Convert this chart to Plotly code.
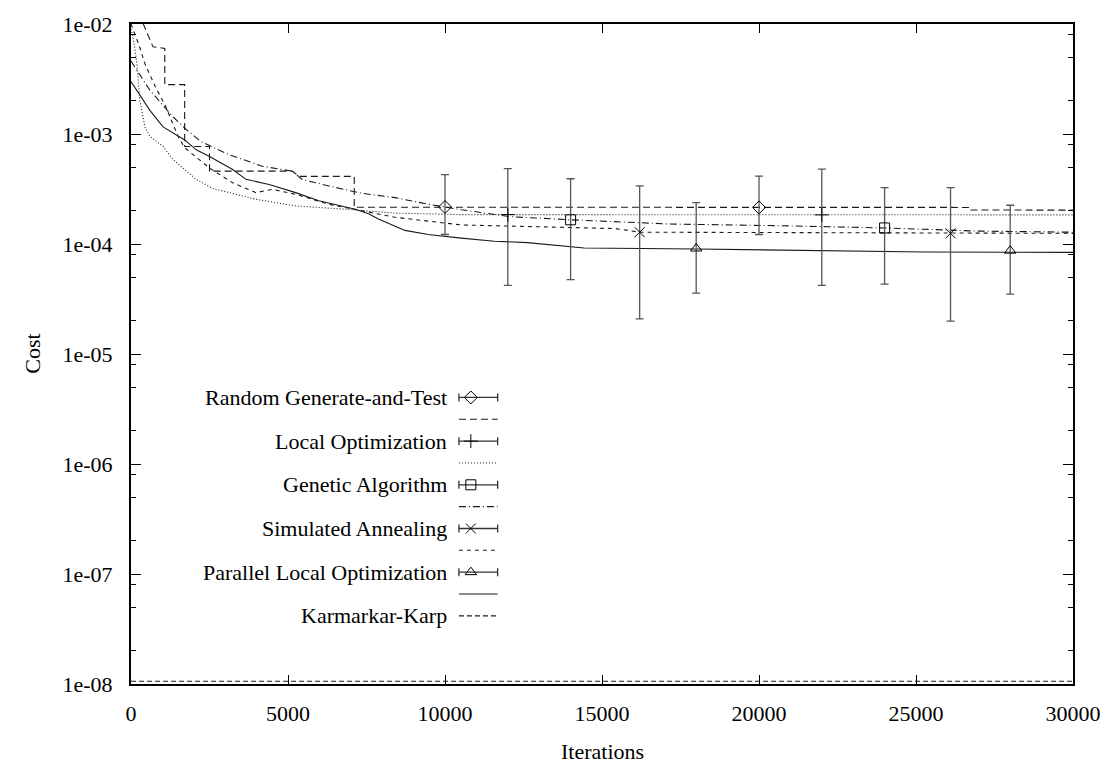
import plotly.graph_objects as go

# ---------------- data ----------------
rgt_x = [0, 380, 700, 1076, 1076, 1709, 1709, 2500, 2500, 5137, 5348, 7110, 7110, 26700, 26700, 30000]
rgt_y = [0.1, 1.02e-2, 6.2e-3, 6.0e-3, 2.81e-3, 2.81e-3, 7.7e-4, 7.7e-4, 4.6e-4, 4.6e-4, 4.12e-4, 4.12e-4,
         2.16e-4, 2.15e-4, 2.04e-4, 2.03e-4]

lo_x = [0, 60, 180, 285, 443, 601, 1022, 1329, 2079, 2595, 3978, 5244, 6826, 8408, 10506, 30000]
lo_y = [9.0e-3, 7.8e-3, 4.6e-3, 2.0e-3, 1.16e-3, 9.5e-4, 7.7e-4, 5.9e-4, 3.87e-4, 3.2e-4, 2.55e-4, 2.22e-4,
        2.07e-4, 1.91e-4, 1.85e-4, 1.84e-4]

ga_x = [0, 300, 600, 1022, 1340, 1772, 2236, 3133, 4187, 5137, 5453, 6297, 7353, 8408, 9462, 10517, 12098,
        14000, 17150, 21000, 24000, 27000, 30000]
ga_y = [4.6e-3, 3.4e-3, 2.5e-3, 1.82e-3, 1.43e-3, 1.09e-3, 8.5e-4, 6.47e-4, 5.09e-4, 4.59e-4, 3.86e-4, 3.37e-4,
        2.89e-4, 2.64e-4, 2.30e-4, 2.05e-4, 1.77e-4, 1.66e-4, 1.52e-4, 1.46e-4, 1.40e-4, 1.31e-4, 1.28e-4]

sa_x = [0, 250, 450, 800, 1100, 1300, 1500, 1709, 2500, 3238, 3978, 4504, 5244, 6297, 8408, 10517, 12627,
        15443, 16200, 26100, 30000]
sa_y = [1.0e-2, 6.5e-3, 4.3e-3, 2.6e-3, 1.8e-3, 1.3e-3, 9.5e-4, 7.5e-4, 4.9e-4, 3.6e-4, 2.93e-4, 3.14e-4,
        2.83e-4, 2.30e-4, 1.75e-4, 1.49e-4, 1.45e-4, 1.38e-4, 1.28e-4, 1.25e-4, 1.25e-4]

plo_x = [0, 601, 1022, 1709, 2079, 2500, 3238, 3661, 4399, 5244, 5981, 7142, 7563, 7880, 8724, 9462, 10517,
         11572, 12627, 13531, 14430, 18000, 23130, 25300, 30000]
plo_y = [3.0e-3, 1.64e-3, 1.16e-3, 8.83e-4, 7.18e-4, 6.25e-4, 4.75e-4, 3.87e-4, 3.48e-4, 2.93e-4, 2.47e-4,
         2.07e-4, 1.88e-4, 1.69e-4, 1.33e-4, 1.22e-4, 1.13e-4, 1.06e-4, 1.03e-4, 9.73e-5, 9.2e-5, 9.0e-5,
         8.6e-5, 8.45e-5, 8.4e-5]

kk_x = [0, 30000]
kk_y = [1.06e-8, 1.06e-8]

# error-bar samples: x, mean, low, high
rgt_ex = [10000, 20000]; rgt_em = [2.17e-4, 2.15e-4]; rgt_lo = [1.22e-4, 1.22e-4]; rgt_hi = [4.28e-4, 4.14e-4]
lo_ex = [12000, 22000];  lo_em = [1.85e-4, 1.84e-4];  lo_lo = [4.2e-5, 4.2e-5];   lo_hi = [4.85e-4, 4.8e-4]
ga_ex = [14000, 24000];  ga_em = [1.66e-4, 1.40e-4];  ga_lo = [4.74e-5, 4.32e-5]; ga_hi = [3.92e-4, 3.25e-4]
sa_ex = [16200, 26100];  sa_em = [1.28e-4, 1.25e-4];  sa_lo = [2.09e-5, 1.99e-5]; sa_hi = [3.37e-4, 3.25e-4]
plo_ex = [18000, 28000]; plo_em = [9.1e-5, 8.7e-5];   plo_lo = [3.58e-5, 3.5e-5]; plo_hi = [2.38e-4, 2.25e-4]

names = ["Random Generate-and-Test", "Local Optimization", "Genetic Algorithm",
         "Simulated Annealing", "Parallel Local Optimization", "Karmarkar-Karp"]

x_ticks = [0, 5000, 10000, 15000, 20000, 25000, 30000]
y_ticks = [1e-8, 1e-7, 1e-6, 1e-5, 1e-4, 1e-3, 1e-2]
y_ticktext = ["1e-08", "1e-07", "1e-06", "1e-05", "1e-04", "1e-03", "1e-02"]

# ---------------- styles ----------------
FONT = "Liberation Serif"
FS = 22
W, H = 1113, 765
L, R, T, B = 131, 1079, 16, 684
LINE = "#1a1a1a"
ERR = "#555555"

styles = [
    dict(dash="7px,4px", sym="diamond-open"),
    dict(dash="1px,2px", sym="cross-thin-open"),
    dict(dash="7px,3px,1px,3px", sym="square-open"),
    dict(dash="4px,4px", sym="x-thin-open"),
    dict(dash="solid", sym="triangle-up-open"),
    dict(dash="5px,3px", sym=None),
]

curves = [(rgt_x, rgt_y), (lo_x, lo_y), (ga_x, ga_y), (sa_x, sa_y), (plo_x, plo_y), (kk_x, kk_y)]
errs = [(rgt_ex, rgt_em, rgt_lo, rgt_hi), (lo_ex, lo_em, lo_lo, lo_hi), (ga_ex, ga_em, ga_lo, ga_hi),
        (sa_ex, sa_em, sa_lo, sa_hi), (plo_ex, plo_em, plo_lo, plo_hi)]

fig = go.Figure()

for (cx, cy), st in zip(curves, styles):
    fig.add_trace(go.Scatter(x=cx, y=cy, mode="lines", showlegend=False, hoverinfo="skip",
                             line=dict(color=LINE, width=1.1, dash=st["dash"])))

for (ex, em, elo, ehi), st in zip(errs, styles):
    fig.add_trace(go.Scatter(
        x=ex, y=em, mode="markers", showlegend=False,
        marker=dict(symbol=st["sym"], size=10, color="black", line=dict(color="black", width=1)),
        error_y=dict(type="data", symmetric=False,
                     array=[h - m for h, m in zip(ehi, em)],
                     arrayminus=[m - l for m, l in zip(em, elo)],
                     color=ERR, thickness=1.3, width=4)))

# ---------------- custom legend (paper coords) ----------------
def px2x(p):
    return (p - L) / (R - L)

def py2y(p):
    return (B - p) / (B - T)

leg_text_x = 451
leg_l, leg_m, leg_r = 461, 473, 500
row0, row_step = 394, 22.1

annotations = []
shapes = []
for i, name in enumerate(names):
    ty = row0 + row_step * (2 * i)
    annotations.append(dict(x=px2x(leg_text_x), y=py2y(ty), xref="paper", yref="paper", text=name,
                            showarrow=False, xanchor="right", yanchor="middle",
                            font=dict(family=FONT, size=FS, color="black")))
    st = styles[i]
    if st["sym"] is not None:
        fig.add_trace(go.Scatter(
            x=[px2x(leg_m)], y=[py2y(ty)], xaxis="x2", yaxis="y2", mode="markers", showlegend=False,
            hoverinfo="skip",
            marker=dict(symbol=st["sym"], size=10, color="black", line=dict(color="black", width=1)),
            error_x=dict(type="data", symmetric=False, array=[px2x(leg_r) - px2x(leg_m)],
                         arrayminus=[px2x(leg_m) - px2x(leg_l)], color="#333333", thickness=1.3, width=4)))
        ly = row0 + row_step * (2 * i + 1)
    else:
        ly = ty
    shapes.append(dict(type="line", xref="paper", yref="paper", x0=px2x(leg_l), x1=px2x(leg_r),
                       y0=py2y(ly), y1=py2y(ly), line=dict(color=LINE, width=1.1, dash=st["dash"])))

annotations.append(dict(x=px2x(605), y=py2y(752), xref="paper", yref="paper", text="Iterations",
                        showarrow=False, xanchor="center", yanchor="middle",
                        font=dict(family=FONT, size=FS, color="black")))
annotations.append(dict(x=px2x(31), y=py2y(350), xref="paper", yref="paper", text="Cost", textangle=-90,
                        showarrow=False, xanchor="center", yanchor="middle",
                        font=dict(family=FONT, size=FS, color="black")))

minor_vals = []
for e in range(-8, -2):
    for m in (2, 5, 8):
        minor_vals.append(m * 10.0 ** e)

fig.update_layout(
    width=W, height=H,
    margin=dict(l=L, r=W - R, t=T, b=H - B, pad=0),
    paper_bgcolor="white", plot_bgcolor="white",
    font=dict(family=FONT, size=FS, color="black"),
    showlegend=False,
    annotations=annotations,
    shapes=shapes,
    xaxis=dict(range=[0, 30000], tickvals=x_ticks, ticktext=[str(v) for v in x_ticks],
               showgrid=False, zeroline=False, showline=True, linecolor="black", linewidth=2,
               mirror="allticks", ticks="inside", ticklen=9, tickwidth=1.2, tickcolor="black",
               tickfont=dict(family=FONT, size=FS, color="black"), ticklabelstandoff=9),
    yaxis=dict(type="log", range=[-8, -2], tickvals=y_ticks, ticktext=y_ticktext,
               showgrid=False, zeroline=False, showline=True, linecolor="black", linewidth=2,
               mirror="allticks", ticks="inside", ticklen=10, tickwidth=1.2, tickcolor="black",
               tickfont=dict(family=FONT, size=FS, color="black"), ticklabelstandoff=12,
               minor=dict(tickmode="array", tickvals=minor_vals, ticks="inside", ticklen=5,
                          tickwidth=1.2, tickcolor="black", showgrid=False)),
    xaxis2=dict(overlaying="x", range=[0, 1], visible=False, anchor="y2"),
    yaxis2=dict(overlaying="y", range=[0, 1], visible=False, anchor="x2"),
)

fig.write_html("out.html", config={"displayModeBar": False},
               post_script="document.body.style.margin='0px';document.body.style.padding='0px';"
                           "document.body.style.overflow='hidden';")
